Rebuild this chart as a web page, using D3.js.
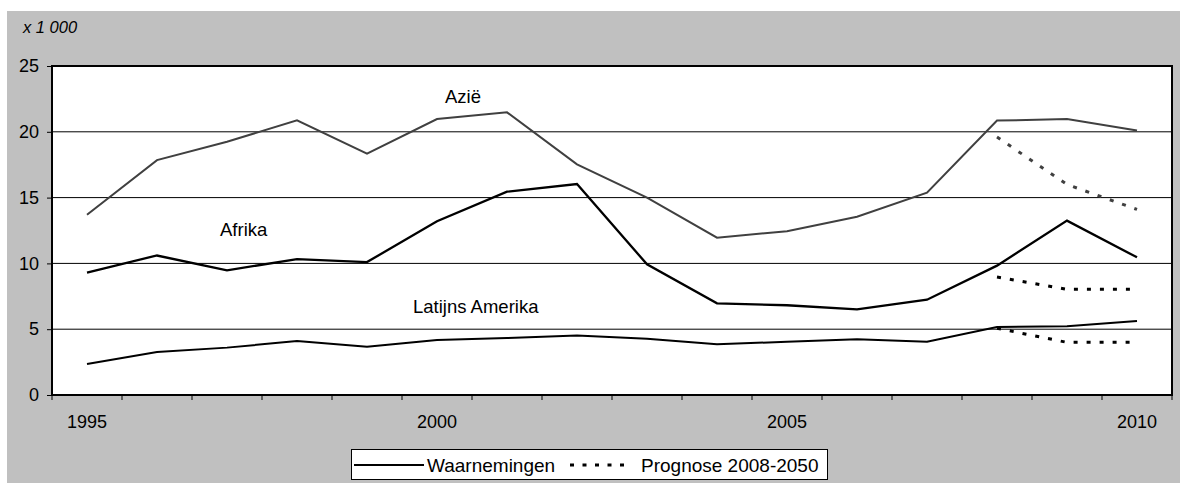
<!DOCTYPE html>
<html>
<head>
<meta charset="utf-8">
<script src="https://cdn.jsdelivr.net/npm/d3@7"></script>
<style>
  body { margin: 0; background: #fff; }
  svg { display: block; font-family: "Liberation Sans", Arial, sans-serif; }
</style>
</head>
<body>
<div></div>
<script>
const WIDTH = 1180;
const HEIGHT = 483;
const PLOT = { left: 52, top: 66, right: 1172, bottom: 395 };

// data (x 1 000)
const years = [1995, 1996, 1997, 1998, 1999, 2000, 2001, 2002, 2003, 2004, 2005, 2006, 2007, 2008, 2009, 2010];
const yearLabels = [1995, 2000, 2005, 2010];
const azie = [13.7, 17.85, 19.25, 20.87, 18.34, 20.97, 21.48, 17.53, 15.0, 11.95, 12.45, 13.55, 15.37, 20.85, 20.97, 20.1];
const afrika = [9.3, 10.6, 9.47, 10.33, 10.1, 13.2, 15.45, 16.03, 9.93, 6.97, 6.82, 6.51, 7.24, 9.83, 13.25, 10.46];
const latijnsAmerika = [2.35, 3.27, 3.6, 4.1, 3.67, 4.18, 4.33, 4.53, 4.28, 3.85, 4.05, 4.23, 4.05, 5.17, 5.22, 5.62];
const prognoseYears = [2008, 2009, 2010];
const azieProg = [19.6, 16.0, 14.1];
const afrikaProg = [8.97, 8.03, 8.03];
const latijnsProg = [5.07, 4.0, 4.0];
const yTicks = [0, 5, 10, 15, 20, 25];

const svg = d3.select('div').append('svg')
    .attr('width', WIDTH)
    .attr('height', HEIGHT);

// grey frame
svg.append('rect')
    .attr('x', 7).attr('y', 11)
    .attr('width', WIDTH - 7).attr('height', HEIGHT - 11)
    .attr('fill', '#c0c0c0');

// scales
const x = d3.scaleBand().domain(years).range([PLOT.left, PLOT.right]).padding(0);
const cx = d => x(d) + x.bandwidth() / 2;
const y = d3.scaleLinear().domain([0, 25]).range([PLOT.bottom, PLOT.top]);

// plot area
svg.append('rect')
    .attr('x', PLOT.left).attr('y', PLOT.top)
    .attr('width', PLOT.right - PLOT.left).attr('height', PLOT.bottom - PLOT.top)
    .attr('fill', '#fff');

// grid lines
svg.append('g').selectAll('line')
    .data(yTicks.slice(1, -1))
    .join('line')
    .attr('x1', PLOT.left).attr('x2', PLOT.right)
    .attr('y1', d => y(d)).attr('y2', d => y(d))
    .attr('stroke', '#000').attr('stroke-width', 1);

// y axis
const yAxis = svg.append('g')
    .attr('transform', 'translate(' + PLOT.left + ',0)')
    .call(d3.axisLeft(y).tickValues(yTicks).tickSize(5).tickPadding(8));
yAxis.select('.domain').remove();
yAxis.selectAll('text').attr('font-size', 18).attr('fill', '#000').attr('font-family', 'Liberation Sans, Arial, sans-serif');
yAxis.selectAll('line').attr('stroke', '#000');

// x axis: ticks between categories, only some labels
const xAxis = svg.append('g')
    .attr('transform', 'translate(0,' + PLOT.bottom + ')')
    .call(d3.axisBottom(x).tickValues(yearLabels).tickSize(0).tickPadding(20));
xAxis.select('.domain').remove();
xAxis.selectAll('text').attr('font-size', 18).attr('fill', '#000').attr('font-family', 'Liberation Sans, Arial, sans-serif');
const edges = years.map(d => x(d)).concat([PLOT.right]);
svg.append('g').selectAll('line')
    .data(edges)
    .join('line')
    .attr('x1', d => d).attr('x2', d => d)
    .attr('y1', PLOT.bottom).attr('y2', PLOT.bottom + 5)
    .attr('stroke', '#000');

// plot border
svg.append('rect')
    .attr('x', PLOT.left).attr('y', PLOT.top)
    .attr('width', PLOT.right - PLOT.left).attr('height', PLOT.bottom - PLOT.top)
    .attr('fill', 'none').attr('stroke', '#000').attr('stroke-width', 2);

// lines
const line = d3.line().x(d => cx(d[0])).y(d => y(d[1]));
const series = [
    { values: azie, color: '#404040', width: 2 },
    { values: afrika, color: '#000', width: 2.3 },
    { values: latijnsAmerika, color: '#000', width: 2 }
];
series.forEach(s => {
    svg.append('path')
        .datum(years.map((yr, i) => [yr, s.values[i]]))
        .attr('d', line)
        .attr('fill', 'none')
        .attr('stroke', s.color)
        .attr('stroke-width', s.width)
        .attr('stroke-linejoin', 'miter');
});
const prognoses = [
    { values: azieProg, color: '#404040' },
    { values: afrikaProg, color: '#000' },
    { values: latijnsProg, color: '#000' }
];
prognoses.forEach(s => {
    svg.append('path')
        .datum(prognoseYears.map((yr, i) => [yr, s.values[i]]))
        .attr('d', line)
        .attr('fill', 'none')
        .attr('stroke', s.color)
        .attr('stroke-width', 3)
        .attr('stroke-dasharray', '4,9');
});

// series labels
const labels = [
    { text: 'Azië', x: 445, y: 103 },
    { text: 'Afrika', x: 220, y: 236 },
    { text: 'Latijns Amerika', x: 413, y: 313 }
];
svg.append('g').selectAll('text')
    .data(labels)
    .join('text')
    .attr('x', d => d.x).attr('y', d => d.y)
    .attr('font-size', 18.5)
    .attr('fill', '#000')
    .text(d => d.text);

// unit label
svg.append('text')
    .attr('x', 23).attr('y', 33)
    .attr('font-size', 16.5)
    .attr('font-style', 'italic')
    .text('x 1 000');

// legend
const legend = svg.append('g');
legend.append('rect')
    .attr('x', 351.5).attr('y', 449.5)
    .attr('width', 476).attr('height', 30)
    .attr('fill', '#fff').attr('stroke', '#000').attr('stroke-width', 1);
legend.append('line')
    .attr('x1', 354).attr('x2', 424).attr('y1', 465).attr('y2', 465)
    .attr('stroke', '#000').attr('stroke-width', 2);
legend.append('text')
    .attr('x', 427).attr('y', 471.5)
    .attr('font-size', 19)
    .text('Waarnemingen');
legend.append('line')
    .attr('x1', 570).attr('x2', 632).attr('y1', 465).attr('y2', 465)
    .attr('stroke', '#000').attr('stroke-width', 3)
    .attr('stroke-dasharray', '4,8.5');
legend.append('text')
    .attr('x', 641).attr('y', 471.5)
    .attr('font-size', 19)
    .text('Prognose 2008-2050');
</script>
</body>
</html>
